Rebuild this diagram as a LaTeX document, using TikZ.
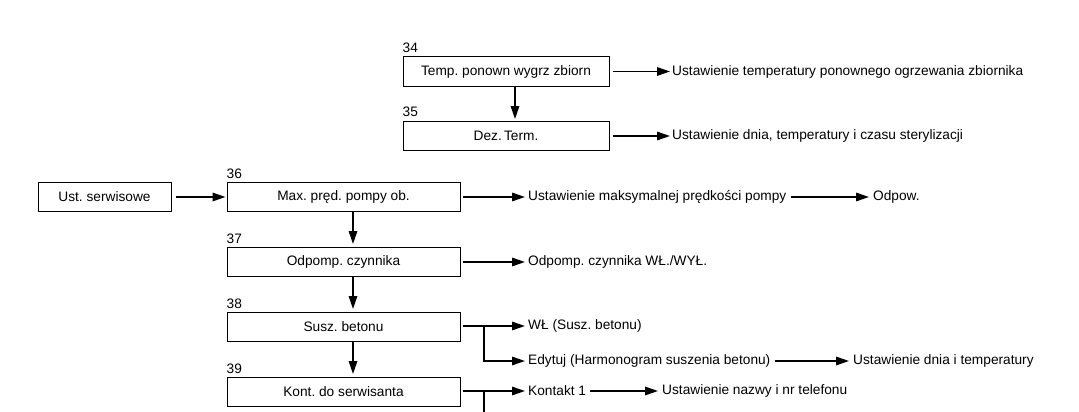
\documentclass[tikz,border=0pt]{standalone}
\usepackage{fontspec}
\setmainfont{Liberation Sans}
\usetikzlibrary{arrows.meta}
\frenchspacing
\begin{document}
\begin{tikzpicture}[x=1pt,y=-1pt,
  font=\fontsize{13.7}{16}\selectfont,
  box/.style={draw, line width=1pt, minimum height=29pt, inner sep=0pt},
  wbox/.style={box, minimum width=233pt},
  nbox/.style={box, minimum width=206pt},
  txt/.style={inner sep=0pt, anchor=west},
  lbl/.style={inner sep=0pt, anchor=base west},
  arr/.style={line width=1.5pt, -{Triangle[length=13pt,width=8.5pt]}},
  ln/.style={line width=1.5pt}]
\useasboundingbox (0,0) rectangle (1079,412);
% top group
\node[nbox] (b34) at (506,71.5) {Temp. ponown wygrz zbiorn};
\node[nbox] (b35) at (506,136) {Dez.\,Term.};
\node[lbl] (l34) at ([yshift=4pt]b34.north west) {34};
\node[lbl] (l35) at ([yshift=4pt]b35.north west) {35};
\node[txt] (t34) at (672,71.5) {Ustawienie temperatury ponownego ogrzewania zbiornika};
\node[txt] (t35) at (672,136) {Ustawienie dnia, temperatury i czasu sterylizacji};
\draw[arr, shorten <=3pt, shorten >=2pt] (b34.east) -- (t34.west);
\draw[arr, shorten <=3pt, shorten >=2pt] (b35.east) -- (t35.west);
\draw[arr, shorten >=2pt] ([xshift=9pt]b34.south) -- ([xshift=9pt]b35.north);
% main column
\node[box, minimum width=133pt] (ust) at (104.5,197) {Ust. serwisowe};
\node[wbox] (b36) at (343.5,197) {Max. pręd. pompy ob.};
\node[wbox] (b37) at (343.5,262) {Odpomp. czynnika};
\node[wbox] (b38) at (343.5,327) {Susz. betonu};
\node[wbox] (b39) at (343.5,392) {Kont. do serwisanta};
\node[lbl] (l36) at ([yshift=4pt]b36.north west) {36};
\node[lbl] (l37) at ([yshift=4pt]b37.north west) {37};
\node[lbl] (l38) at ([yshift=4pt]b38.north west) {38};
\node[lbl] (l39) at ([yshift=4pt]b39.north west) {39};
\draw[arr, shorten <=4pt, shorten >=1pt] (ust.east) -- (b36.west);
\draw[arr, shorten >=3pt] ([xshift=9.5pt]b36.south) -- ([xshift=9.5pt]b37.north);
\draw[arr, shorten >=3pt] ([xshift=9.5pt]b37.south) -- ([xshift=9.5pt]b38.north);
\draw[arr, shorten >=3pt] ([xshift=9.5pt]b38.south) -- ([xshift=9.5pt]b39.north);
% right texts
\node[txt] (t36) at (528,197) {Ustawienie maksymalnej prędkości pompy};
\node[txt] (odp) at (873,197) {Odpow.};
\node[txt] (t37) at (528,262) {Odpomp. czynnika WŁ./WYŁ.};
\node[txt] (wl) at (528,326) {WŁ (Susz. betonu)};
\node[txt] (ed) at (528,361) {Edytuj (Harmonogram suszenia betonu)};
\node[txt] (t38) at (853,361) {Ustawienie dnia i temperatury};
\node[txt] (k1) at (528,391) {Kontakt 1};
\node[txt] (t39) at (662,391) {Ustawienie nazwy i nr telefonu};
\draw[arr, shorten <=2pt, shorten >=3pt] (b36.east) -- (t36.west);
\draw[arr, shorten <=4pt, shorten >=4pt] (t36.east) -- (odp.west);
\draw[arr, shorten <=2pt, shorten >=3pt] (b37.east) -- (t37.west);
\draw[arr, shorten <=2pt, shorten >=3pt] (b38.east |- wl.west) -- (wl.west);
\draw[arr, shorten >=3pt] (484,326) |- (ed.west);
\draw[arr, shorten <=4pt, shorten >=4pt] (ed.east) -- (t38.west);
\draw[arr, shorten <=2pt, shorten >=3pt] (b39.east |- k1.west) -- (k1.west);
\draw[arr, shorten <=4pt, shorten >=4pt] (k1.east) -- (t39.west);
\coordinate (cut) at (484,414);
\draw[ln] (484,391) -- (cut);
\end{tikzpicture}
\end{document}
